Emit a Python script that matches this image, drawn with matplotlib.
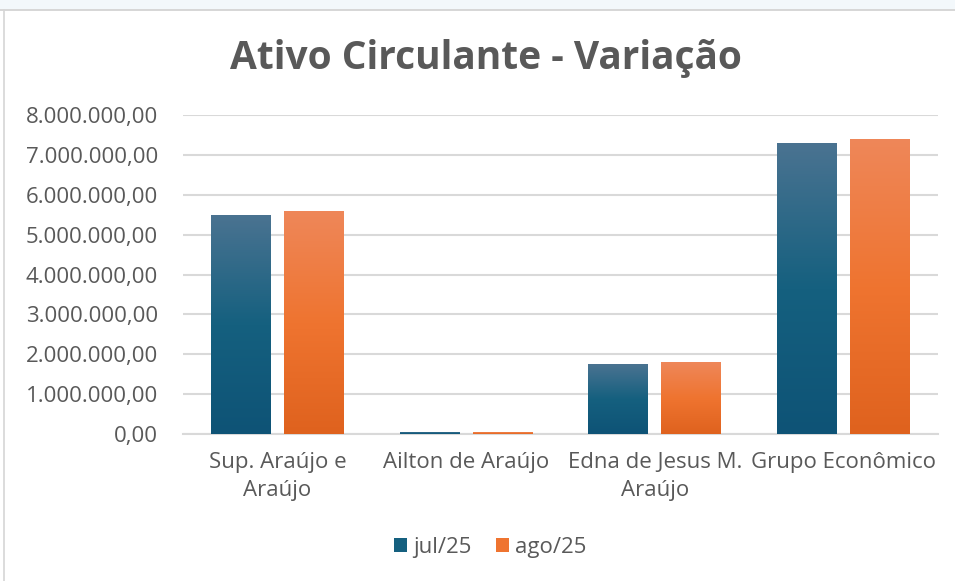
import numpy as np
import matplotlib.pyplot as plt
import matplotlib.ticker as ticker
from matplotlib.colors import LinearSegmentedColormap
from matplotlib.patches import Rectangle, Patch
from matplotlib.lines import Line2D

# ── Data ───────────────────────────────────────────────────────────────────────
categories = ["Sup. Araújo e\nAraújo", "Ailton de Araújo", "Edna de Jesus M.\nAraújo", "Grupo Econômico"]
jul25 = [5490000, 35000, 1750000, 7290000]
ago25 = [5590000, 30000, 1800000, 7390000]
series_names = ["jul/25", "ago/25"]

# ── Style ──────────────────────────────────────────────────────────────────────
TEXT = "#595959"
GRID = "#D9D9D9"
FONT = ["Open Sans", "DejaVu Sans"]
plt.rcParams["font.family"] = FONT

cmap_jul = LinearSegmentedColormap.from_list("jul", ["#0E5376", "#15607F", "#4A7391"])
cmap_ago = LinearSegmentedColormap.from_list("ago", ["#DF621E", "#EF7430", "#EE8759"])

def br_fmt(v, pos=None):
    s = f"{v:,.2f}"
    return s.replace(",", "X").replace(".", ",").replace("X", ".")

fig = plt.figure(figsize=(9.55, 5.81), dpi=100)
fig.patch.set_facecolor("white")

# top band + chart border like the Excel frame
fig.patches.append(Rectangle((0, 1 - 9 / 581), 1, 9 / 581, transform=fig.transFigure,
                             facecolor="#F3F8FB", edgecolor="none", zorder=0))
fig.add_artist(Line2D([0, 1], [1 - 9.5 / 581] * 2, transform=fig.transFigure, color="#CFCFCF", lw=1.2))
fig.add_artist(Line2D([3.5 / 955] * 2, [0, 1 - 9.5 / 581], transform=fig.transFigure, color="#D6D6D6", lw=1.2))

ax = fig.add_axes([183 / 955, 1 - 434 / 581, (938 - 183) / 955, (434 - 115) / 581])

x = np.arange(len(categories))
w = 0.317
gap = 0.07
offs = (w + gap) / 2

# gradient-filled bars (light top -> dark bottom)
for vals, cmap, sign in [(jul25, cmap_jul, -1), (ago25, cmap_ago, 1)]:
    for xi, v in zip(x, vals):
        x0 = xi + sign * offs - w / 2
        grad = np.linspace(1, 0, 256).reshape(-1, 1)
        ax.imshow(grad, extent=[x0, x0 + w, 0, v], aspect="auto", cmap=cmap,
                  zorder=3, interpolation="bicubic")

ax.set_xlim(-0.5, len(categories) - 0.5)
ax.set_ylim(0, 8000000)
ax.yaxis.set_major_locator(ticker.MultipleLocator(1000000))
ax.yaxis.set_major_formatter(ticker.FuncFormatter(br_fmt))
ax.set_xticks(x)
ax.set_xticklabels(categories, fontsize=16, color=TEXT, linespacing=1.45)
ax.tick_params(axis="y", labelsize=16, labelcolor=TEXT, length=0, pad=18)
ax.tick_params(axis="x", length=0, pad=13)
ax.grid(axis="y", color=GRID, linewidth=1.5, zorder=0)
ax.set_axisbelow(True)
for s in ["top", "right", "left"]:
    ax.spines[s].set_visible(False)
ax.spines["bottom"].set_color(GRID)
ax.spines["bottom"].set_linewidth(1.5)

fig.text(486 / 955, 1 - 58 / 581, "Ativo Circulante - Variação", ha="center", va="center",
         fontsize=28, fontweight="bold", color=TEXT)

handles = [Patch(facecolor="#15607F"), Patch(facecolor="#EF7430")]
fig.legend(handles, series_names, loc="center", bbox_to_anchor=(490 / 955, 1 - 547 / 581),
           ncol=2, frameon=False, fontsize=16, labelcolor=TEXT, handlelength=0.6,
           handleheight=0.6, handletextpad=0.25, columnspacing=1.1)

plt.savefig("out.png", dpi=100)
